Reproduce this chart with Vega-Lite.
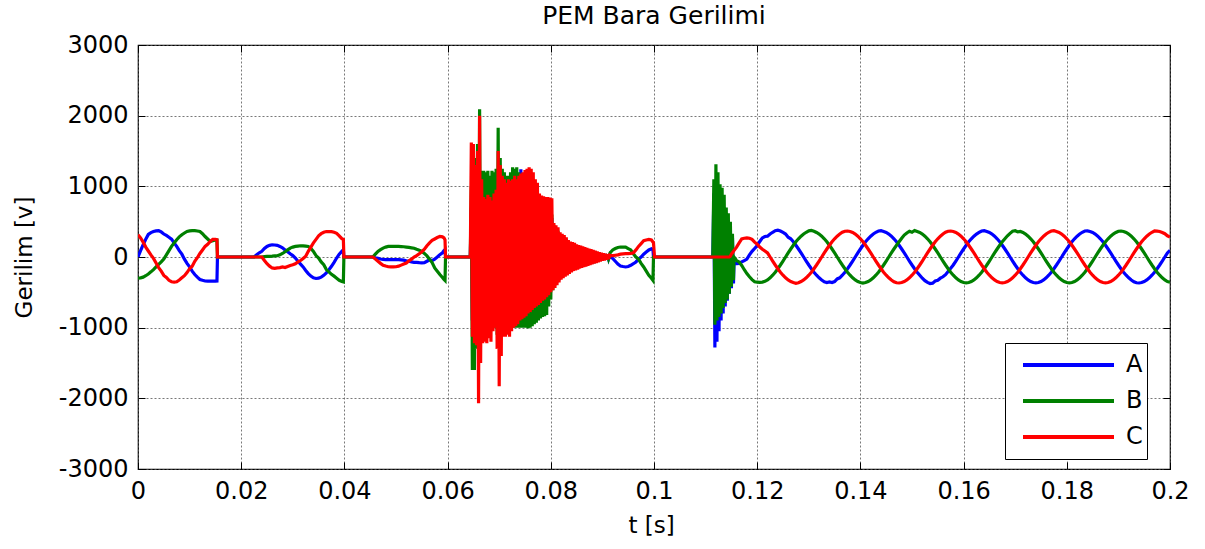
{
"$schema": "https://vega.github.io/schema/vega-lite/v6.json",
"width": 1032, "height": 424,
"autosize": {"type": "none"},
"padding": {"left": 138, "top": 45, "right": 35, "bottom": 80},
"background": "white",
"title": {"text": "PEM Bara Gerilimi", "font": "DejaVu Sans", "fontSize": 25, "fontWeight": "normal", "color": "black", "anchor": "middle", "baseline": "alphabetic", "offset": 19, "dy": 35},
"data": {"values": [
{"t":0,"A":0,"B":-300,"C":314},{"t":0.0005,"A":90,"B":-295,"C":270},{"t":0.001,"A":175,"B":-285,"C":210},{"t":0.0015,"A":250,"B":-265,"C":140},{"t":0.002,"A":320,"B":-240,"C":85},{"t":0.0025,"A":345,"B":-210,"C":30},{"t":0.003,"A":360,"B":-178,"C":-20},{"t":0.0035,"A":370,"B":-140,"C":-85},{"t":0.004,"A":372,"B":-105,"C":-150},{"t":0.0045,"A":355,"B":-70,"C":-200},{"t":0.005,"A":325,"B":-30,"C":-260},{"t":0.0055,"A":305,"B":30,"C":-290},{"t":0.006,"A":280,"B":90,"C":-330},{"t":0.0065,"A":253,"B":150,"C":-350},{"t":0.007,"A":200,"B":200,"C":-356},{"t":0.0075,"A":150,"B":245,"C":-350},{"t":0.008,"A":90,"B":285,"C":-325},{"t":0.0085,"A":40,"B":315,"C":-295},{"t":0.009,"A":-30,"B":340,"C":-265},{"t":0.0095,"A":-90,"B":362,"C":-220},{"t":0.01,"A":-140,"B":370,"C":-165},{"t":0.0105,"A":-200,"B":374,"C":-130},{"t":0.011,"A":-248,"B":372,"C":-60},{"t":0.0115,"A":-285,"B":368,"C":-10},{"t":0.012,"A":-318,"B":360,"C":50},{"t":0.0125,"A":-330,"B":330,"C":100},{"t":0.013,"A":-340,"B":290,"C":150},{"t":0.0135,"A":-342,"B":255,"C":180},{"t":0.014,"A":-342,"B":220,"C":220},{"t":0.0145,"A":-342,"B":230,"C":250},{"t":0.015,"A":-342,"B":240,"C":250},{"t":0.0153,"A":-340,"B":240,"C":245},{"t":0.0154,"A":0,"B":0,"C":0},{"t":0.0225,"A":0,"B":0,"C":0},
{"t":0.023,"A":33,"B":0,"C":0},{"t":0.0235,"A":60,"B":0,"C":0},{"t":0.024,"A":80,"B":0,"C":0},{"t":0.0245,"A":120,"B":5,"C":-50},{"t":0.025,"A":150,"B":8,"C":-95},{"t":0.0255,"A":165,"B":10,"C":-130},{"t":0.026,"A":173,"B":12,"C":-155},{"t":0.0265,"A":170,"B":15,"C":-160},{"t":0.027,"A":165,"B":18,"C":-155},{"t":0.0275,"A":150,"B":30,"C":-150},{"t":0.028,"A":130,"B":50,"C":-140},{"t":0.0285,"A":100,"B":75,"C":-150},{"t":0.029,"A":75,"B":100,"C":-135},{"t":0.0295,"A":45,"B":126,"C":-120},{"t":0.03,"A":20,"B":140,"C":-110},{"t":0.0305,"A":-14,"B":150,"C":-95},{"t":0.031,"A":-60,"B":155,"C":-70},{"t":0.0315,"A":-100,"B":159,"C":-50},{"t":0.032,"A":-140,"B":158,"C":-20},{"t":0.0325,"A":-190,"B":155,"C":10},{"t":0.033,"A":-235,"B":150,"C":80},{"t":0.0335,"A":-270,"B":120,"C":140},{"t":0.034,"A":-295,"B":80,"C":200},{"t":0.0345,"A":-304,"B":20,"C":250},{"t":0.035,"A":-300,"B":-15,"C":300},{"t":0.0355,"A":-285,"B":-70,"C":330},{"t":0.036,"A":-260,"B":-110,"C":350},{"t":0.0365,"A":-225,"B":-178,"C":360},{"t":0.037,"A":-180,"B":-210,"C":360},{"t":0.0375,"A":-131,"B":-245,"C":358},{"t":0.038,"A":-75,"B":-271,"C":350},{"t":0.0385,"A":-14,"B":-300,"C":335},{"t":0.039,"A":40,"B":-330,"C":300},{"t":0.0395,"A":80,"B":-345,"C":260},{"t":0.0398,"A":103,"B":-351,"C":250},{"t":0.0399,"A":0,"B":0,"C":0},{"t":0.0455,"A":0,"B":0,"C":0},
{"t":0.046,"A":-10,"B":40,"C":-30},{"t":0.0465,"A":-19,"B":80,"C":-61},{"t":0.047,"A":-28,"B":105,"C":-90},{"t":0.0475,"A":-35,"B":126,"C":-117},{"t":0.048,"A":-37,"B":140,"C":-128},{"t":0.0485,"A":-37,"B":150,"C":-138},{"t":0.049,"A":-37,"B":150,"C":-140},{"t":0.0495,"A":-37,"B":150,"C":-140},{"t":0.05,"A":-37,"B":150,"C":-138},{"t":0.0505,"A":-37,"B":150,"C":-130},{"t":0.051,"A":-40,"B":148,"C":-115},{"t":0.0515,"A":-45,"B":145,"C":-100},{"t":0.052,"A":-55,"B":140,"C":-85},{"t":0.0525,"A":-61,"B":135,"C":-55},{"t":0.053,"A":-70,"B":130,"C":-30},{"t":0.0535,"A":-75,"B":124,"C":0},{"t":0.054,"A":-75,"B":110,"C":19},{"t":0.0545,"A":-80,"B":97,"C":45},{"t":0.055,"A":-84,"B":80,"C":75},{"t":0.0555,"A":-80,"B":50,"C":110},{"t":0.056,"A":-60,"B":15,"C":160},{"t":0.0565,"A":-40,"B":-30,"C":200},{"t":0.057,"A":-50,"B":-80,"C":235},{"t":0.0575,"A":-30,"B":-154,"C":255},{"t":0.058,"A":0,"B":-200,"C":275},{"t":0.0585,"A":33,"B":-248,"C":290},{"t":0.059,"A":60,"B":-290,"C":285},{"t":0.0593,"A":90,"B":-318,"C":270},{"t":0.0595,"A":103,"B":-332,"C":243},{"t":0.0596,"A":0,"B":0,"C":0},{"t":0.0644,"A":0,"B":0,"C":0},
{"t":0.0646,"A":700,"B":1000,"C":1620},{"t":0.0648,"A":-900,"B":-1600,"C":-1130},{"t":0.065,"A":800,"B":1200,"C":1600},{"t":0.0652,"A":-900,"B":-1600,"C":-1220},{"t":0.0654,"A":900,"B":1400,"C":1300},{"t":0.0656,"A":-1000,"B":-1300,"C":-1250},{"t":0.0658,"A":1000,"B":1600,"C":1500},{"t":0.066,"A":-1100,"B":-1300,"C":-2070},{"t":0.0662,"A":1200,"B":2090,"C":2000},{"t":0.0664,"A":-1000,"B":-1200,"C":-1500},{"t":0.0666,"A":900,"B":1220,"C":1100},{"t":0.0668,"A":-900,"B":-1100,"C":-1220},{"t":0.067,"A":800,"B":1220,"C":850},{"t":0.0672,"A":-900,"B":-1100,"C":-1200},{"t":0.0674,"A":800,"B":1200,"C":820},{"t":0.0676,"A":-850,"B":-1050,"C":-1220},{"t":0.0678,"A":800,"B":1220,"C":880},{"t":0.068,"A":-850,"B":-1000,"C":-1150},{"t":0.0682,"A":750,"B":1150,"C":850},{"t":0.0684,"A":-850,"B":-1050,"C":-1200},{"t":0.0686,"A":750,"B":1220,"C":800},{"t":0.0688,"A":-800,"B":-1000,"C":-1050},{"t":0.069,"A":800,"B":1200,"C":900},{"t":0.0692,"A":-800,"B":-1000,"C":-1000},{"t":0.0694,"A":850,"B":1250,"C":950},{"t":0.0696,"A":-900,"B":-1100,"C":-1300},{"t":0.0698,"A":1000,"B":1830,"C":1500},{"t":0.07,"A":-1000,"B":-1200,"C":-1830},{"t":0.0702,"A":950,"B":1400,"C":1300},{"t":0.0704,"A":-950,"B":-1100,"C":-1400},{"t":0.0706,"A":900,"B":1250,"C":1150},{"t":0.0708,"A":-900,"B":-1000,"C":-1130},{"t":0.071,"A":900,"B":1200,"C":1100},{"t":0.0712,"A":-900,"B":-1000,"C":-1130},{"t":0.0714,"A":900,"B":1150,"C":1050},{"t":0.0716,"A":-900,"B":-1000,"C":-1100},{"t":0.0718,"A":950,"B":1150,"C":1100},{"t":0.072,"A":-900,"B":-1000,"C":-1130},{"t":0.0722,"A":1000,"B":1200,"C":1080},{"t":0.0724,"A":-900,"B":-1000,"C":-1050},{"t":0.0726,"A":1000,"B":1270,"C":1100},{"t":0.0728,"A":-900,"B":-1000,"C":-1000},{"t":0.073,"A":1050,"B":1250,"C":1150},{"t":0.0732,"A":-900,"B":-1000,"C":-980},{"t":0.0734,"A":1100,"B":1270,"C":1100},{"t":0.0736,"A":-900,"B":-1000,"C":-950},{"t":0.0738,"A":1150,"B":1200,"C":1150},{"t":0.074,"A":-920,"B":-1000,"C":-900},{"t":0.0742,"A":1240,"B":1150,"C":1180},{"t":0.0744,"A":-940,"B":-1000,"C":-880},{"t":0.0746,"A":1100,"B":1100,"C":1200},{"t":0.0748,"A":-900,"B":-1000,"C":-860},{"t":0.075,"A":1000,"B":1100,"C":1230},{"t":0.0752,"A":-850,"B":-1000,"C":-840},{"t":0.0754,"A":1000,"B":1100,"C":1250},{"t":0.0756,"A":-850,"B":-1010,"C":-800},{"t":0.0758,"A":1000,"B":1100,"C":1270},{"t":0.076,"A":-800,"B":-1000,"C":-780},{"t":0.0762,"A":950,"B":1050,"C":1250},{"t":0.0764,"A":-750,"B":-980,"C":-750},{"t":0.0766,"A":900,"B":1000,"C":1200},{"t":0.0768,"A":-700,"B":-950,"C":-720},{"t":0.077,"A":850,"B":950,"C":1100},{"t":0.0772,"A":-650,"B":-930,"C":-700},{"t":0.0774,"A":800,"B":900,"C":1050},{"t":0.0776,"A":-620,"B":-900,"C":-680},{"t":0.0778,"A":750,"B":850,"C":900},{"t":0.078,"A":-600,"B":-870,"C":-650},{"t":0.0782,"A":700,"B":800,"C":870},{"t":0.0784,"A":-580,"B":-850,"C":-620},{"t":0.0786,"A":680,"B":780,"C":860},{"t":0.0788,"A":-550,"B":-840,"C":-600},{"t":0.079,"A":650,"B":750,"C":850},{"t":0.0792,"A":-520,"B":-820,"C":-570},{"t":0.0794,"A":620,"B":720,"C":850},{"t":0.0796,"A":-500,"B":-700,"C":-540},{"t":0.0798,"A":600,"B":700,"C":840},{"t":0.08,"A":-470,"B":-600,"C":-500},{"t":0.0802,"A":550,"B":600,"C":830},{"t":0.0804,"A":-430,"B":-470,"C":-470},{"t":0.0806,"A":400,"B":450,"C":480},{"t":0.0808,"A":-400,"B":-400,"C":-440},{"t":0.081,"A":380,"B":400,"C":450},{"t":0.0812,"A":-360,"B":-350,"C":-400},{"t":0.0814,"A":350,"B":370,"C":420},{"t":0.0816,"A":-330,"B":-320,"C":-360},{"t":0.0818,"A":320,"B":320,"C":350},{"t":0.082,"A":-300,"B":-290,"C":-320},{"t":0.0822,"A":300,"B":300,"C":330},{"t":0.0824,"A":-270,"B":-270,"C":-300},{"t":0.0826,"A":280,"B":280,"C":310},{"t":0.0828,"A":-250,"B":-250,"C":-280},{"t":0.083,"A":250,"B":250,"C":280},{"t":0.0832,"A":-230,"B":-230,"C":-260},{"t":0.0834,"A":220,"B":220,"C":240},{"t":0.0836,"A":-210,"B":-210,"C":-240},{"t":0.0838,"A":200,"B":200,"C":220},{"t":0.084,"A":-200,"B":-200,"C":-220},{"t":0.0842,"A":190,"B":190,"C":210},{"t":0.0844,"A":-180,"B":-180,"C":-200},{"t":0.0846,"A":180,"B":180,"C":200},{"t":0.0848,"A":-170,"B":-170,"C":-190},{"t":0.085,"A":160,"B":160,"C":180},{"t":0.0852,"A":-160,"B":-160,"C":-180},{"t":0.0854,"A":150,"B":150,"C":170},{"t":0.0856,"A":-150,"B":-150,"C":-165},{"t":0.0858,"A":140,"B":140,"C":160},{"t":0.086,"A":-140,"B":-140,"C":-155},{"t":0.0862,"A":130,"B":130,"C":150},{"t":0.0864,"A":-130,"B":-130,"C":-145},{"t":0.0866,"A":120,"B":120,"C":140},{"t":0.0868,"A":-120,"B":-120,"C":-135},{"t":0.087,"A":110,"B":110,"C":130},{"t":0.0872,"A":-110,"B":-110,"C":-125},{"t":0.0874,"A":100,"B":100,"C":120},{"t":0.0876,"A":-100,"B":-100,"C":-115},{"t":0.0878,"A":95,"B":95,"C":110},{"t":0.088,"A":-90,"B":-90,"C":-105},{"t":0.0882,"A":85,"B":85,"C":100},{"t":0.0884,"A":-85,"B":-85,"C":-95},{"t":0.0886,"A":80,"B":80,"C":90},{"t":0.0888,"A":-75,"B":-75,"C":-85},{"t":0.089,"A":70,"B":70,"C":80},{"t":0.0892,"A":-65,"B":-65,"C":-75},{"t":0.0894,"A":60,"B":60,"C":70},{"t":0.0896,"A":-55,"B":-55,"C":-65},{"t":0.0898,"A":55,"B":55,"C":60},{"t":0.09,"A":-50,"B":-50,"C":-55},{"t":0.0902,"A":45,"B":45,"C":55},{"t":0.0904,"A":-40,"B":-40,"C":-50},{"t":0.0906,"A":40,"B":40,"C":45},{"t":0.0908,"A":-35,"B":-35,"C":-40},{"t":0.091,"A":30,"B":30,"C":40},{"t":0.0912,"A":-25,"B":-25,"C":-30},{"t":0.0914,"A":20,"B":20,"C":25},
{"t":0.0915,"A":0,"B":60,"C":20},{"t":0.092,"A":-20,"B":100,"C":20},{"t":0.0925,"A":-60,"B":120,"C":25},{"t":0.093,"A":-100,"B":135,"C":30},{"t":0.0935,"A":-128,"B":141,"C":40},{"t":0.094,"A":-135,"B":141,"C":45},{"t":0.0945,"A":-141,"B":141,"C":47},{"t":0.095,"A":-135,"B":120,"C":47},{"t":0.0955,"A":-117,"B":100,"C":50},{"t":0.096,"A":-95,"B":45,"C":60},{"t":0.0965,"A":-70,"B":0,"C":100},{"t":0.097,"A":-30,"B":-30,"C":150},{"t":0.0975,"A":0,"B":-90,"C":190},{"t":0.098,"A":40,"B":-141,"C":230},{"t":0.0985,"A":70,"B":-200,"C":240},{"t":0.099,"A":100,"B":-258,"C":249},{"t":0.0995,"A":117,"B":-300,"C":240},{"t":0.0998,"A":103,"B":-329,"C":211},{"t":0.0999,"A":0,"B":0,"C":205},{"t":0.1001,"A":0,"B":0,"C":0},{"t":0.1114,"A":0,"B":0,"C":0},
{"t":0.1116,"A":900,"B":1100,"C":0},{"t":0.1118,"A":-1281,"B":-958,"C":0},{"t":0.112,"A":1000,"B":1313,"C":0},{"t":0.1122,"A":-1200,"B":-900,"C":0},{"t":0.1124,"A":950,"B":1200,"C":0},{"t":0.1126,"A":-1050,"B":-850,"C":0},{"t":0.1128,"A":850,"B":1030,"C":0},{"t":0.113,"A":-900,"B":-800,"C":0},{"t":0.1132,"A":800,"B":980,"C":0},{"t":0.1134,"A":-800,"B":-720,"C":0},{"t":0.1136,"A":700,"B":880,"C":0},{"t":0.1138,"A":-700,"B":-650,"C":0},{"t":0.114,"A":600,"B":700,"C":0},{"t":0.1142,"A":-620,"B":-600,"C":0},{"t":0.1144,"A":500,"B":620,"C":0},{"t":0.1146,"A":-520,"B":-520,"C":0},{"t":0.1148,"A":400,"B":500,"C":10},{"t":0.115,"A":-440,"B":-420,"C":40},{"t":0.1152,"A":280,"B":330,"C":60},{"t":0.1154,"A":-375,"B":-327,"C":80},
{"t":0.1155,"A":-94,"B":0,"C":90},{"t":0.116,"A":-94,"B":-50,"C":140},{"t":0.1165,"A":-90,"B":-70,"C":200},{"t":0.117,"A":-70,"B":-120,"C":257},{"t":0.1175,"A":-50,"B":-180,"C":265},{"t":0.118,"A":-30,"B":-234,"C":271},{"t":0.1185,"A":30,"B":-280,"C":265},{"t":0.119,"A":80,"B":-320,"C":250},{"t":0.1195,"A":120,"B":-351,"C":210},{"t":0.12,"A":160,"B":-355,"C":180},{"t":0.1205,"A":220,"B":-360,"C":140},{"t":0.121,"A":270,"B":-355,"C":110},{"t":0.1215,"A":290,"B":-345,"C":85},
{"t":0.122,"A":295,"B":-325,"C":57},{"t":0.1225,"A":325,"B":-295,"C":0},{"t":0.123,"A":350,"B":-258,"C":-57},{"t":0.1235,"A":372,"B":-215,"C":-113},{"t":0.124,"A":380,"B":-166,"C":-166},{"t":0.1245,"A":368,"B":-113,"C":-215},{"t":0.125,"A":347,"B":-57,"C":-258},{"t":0.1255,"A":325,"B":0,"C":-295},{"t":0.126,"A":280,"B":57,"C":-325},{"t":0.1265,"A":258,"B":113,"C":-347},{"t":0.127,"A":215,"B":166,"C":-361},{"t":0.1275,"A":166,"B":215,"C":-372},{"t":0.128,"A":113,"B":258,"C":-365},{"t":0.1285,"A":57,"B":295,"C":-347},{"t":0.129,"A":0,"B":325,"C":-325},{"t":0.1295,"A":-57,"B":350,"C":-295},{"t":0.13,"A":-113,"B":370,"C":-258},{"t":0.1305,"A":-166,"B":375,"C":-215},{"t":0.131,"A":-215,"B":365,"C":-166},{"t":0.1315,"A":-258,"B":347,"C":-113},{"t":0.132,"A":-295,"B":325,"C":-57},{"t":0.1325,"A":-325,"B":295,"C":0},{"t":0.133,"A":-350,"B":258,"C":57},{"t":0.1335,"A":-361,"B":215,"C":113},{"t":0.134,"A":-352,"B":166,"C":166},{"t":0.1345,"A":-361,"B":113,"C":215},{"t":0.135,"A":-347,"B":57,"C":258},{"t":0.1355,"A":-310,"B":0,"C":295},{"t":0.136,"A":-295,"B":-57,"C":325},{"t":0.1365,"A":-258,"B":-113,"C":350},{"t":0.137,"A":-215,"B":-166,"C":365},{"t":0.1375,"A":-166,"B":-215,"C":368},{"t":0.138,"A":-113,"B":-258,"C":361},{"t":0.1385,"A":-57,"B":-295,"C":347},{"t":0.139,"A":0,"B":-325,"C":325},{"t":0.1395,"A":57,"B":-347,"C":295},{"t":0.14,"A":113,"B":-361,"C":258},{"t":0.1405,"A":166,"B":-368,"C":215},{"t":0.141,"A":215,"B":-361,"C":166},{"t":0.1415,"A":258,"B":-347,"C":113},
{"t":0.142,"A":295,"B":-325,"C":57},{"t":0.1425,"A":325,"B":-295,"C":0},{"t":0.143,"A":350,"B":-258,"C":-57},{"t":0.1435,"A":368,"B":-215,"C":-113},{"t":0.144,"A":372,"B":-166,"C":-166},{"t":0.1445,"A":361,"B":-113,"C":-215},{"t":0.145,"A":347,"B":-57,"C":-258},{"t":0.1455,"A":325,"B":0,"C":-295},{"t":0.146,"A":295,"B":57,"C":-325},{"t":0.1465,"A":258,"B":113,"C":-350},{"t":0.147,"A":215,"B":166,"C":-365},{"t":0.1475,"A":166,"B":215,"C":-368},{"t":0.148,"A":113,"B":265,"C":-361},{"t":0.1485,"A":57,"B":310,"C":-347},{"t":0.149,"A":0,"B":340,"C":-325},{"t":0.1495,"A":-57,"B":365,"C":-295},{"t":0.15,"A":-113,"B":350,"C":-258},{"t":0.1505,"A":-166,"B":375,"C":-215},{"t":0.151,"A":-215,"B":361,"C":-166},{"t":0.1515,"A":-258,"B":347,"C":-113},{"t":0.152,"A":-300,"B":325,"C":-57},{"t":0.1525,"A":-335,"B":295,"C":0},{"t":0.153,"A":-360,"B":258,"C":57},{"t":0.1535,"A":-375,"B":215,"C":113},{"t":0.154,"A":-370,"B":166,"C":166},{"t":0.1545,"A":-340,"B":113,"C":215},{"t":0.155,"A":-330,"B":57,"C":258},{"t":0.1555,"A":-300,"B":0,"C":295},{"t":0.156,"A":-280,"B":-57,"C":325},{"t":0.1565,"A":-250,"B":-113,"C":350},{"t":0.157,"A":-205,"B":-166,"C":365},{"t":0.1575,"A":-160,"B":-215,"C":368},{"t":0.158,"A":-113,"B":-258,"C":361},{"t":0.1585,"A":-57,"B":-295,"C":347},{"t":0.159,"A":0,"B":-325,"C":325},{"t":0.1595,"A":57,"B":-347,"C":295},{"t":0.16,"A":113,"B":-361,"C":258},{"t":0.1605,"A":166,"B":-365,"C":215},{"t":0.161,"A":215,"B":-361,"C":166},{"t":0.1615,"A":258,"B":-347,"C":113},
{"t":0.162,"A":295,"B":-325,"C":57},{"t":0.1625,"A":325,"B":-295,"C":0},{"t":0.163,"A":347,"B":-258,"C":-57},{"t":0.1635,"A":368,"B":-215,"C":-113},{"t":0.164,"A":372,"B":-166,"C":-166},{"t":0.1645,"A":361,"B":-113,"C":-215},{"t":0.165,"A":347,"B":-57,"C":-258},{"t":0.1655,"A":325,"B":0,"C":-295},{"t":0.166,"A":295,"B":57,"C":-325},{"t":0.1665,"A":258,"B":113,"C":-347},{"t":0.167,"A":215,"B":166,"C":-361},{"t":0.1675,"A":166,"B":215,"C":-365},{"t":0.168,"A":113,"B":258,"C":-361},{"t":0.1685,"A":57,"B":300,"C":-347},{"t":0.169,"A":0,"B":335,"C":-325},{"t":0.1695,"A":-57,"B":365,"C":-295},{"t":0.17,"A":-113,"B":372,"C":-258},{"t":0.1705,"A":-166,"B":355,"C":-215},{"t":0.171,"A":-215,"B":361,"C":-166},{"t":0.1715,"A":-258,"B":347,"C":-113},{"t":0.172,"A":-295,"B":325,"C":-57},{"t":0.1725,"A":-325,"B":295,"C":0},{"t":0.173,"A":-347,"B":258,"C":57},{"t":0.1735,"A":-361,"B":215,"C":113},{"t":0.174,"A":-365,"B":166,"C":166},{"t":0.1745,"A":-361,"B":113,"C":215},{"t":0.175,"A":-347,"B":57,"C":258},{"t":0.1755,"A":-325,"B":0,"C":295},{"t":0.176,"A":-295,"B":-57,"C":325},{"t":0.1765,"A":-258,"B":-113,"C":350},{"t":0.177,"A":-215,"B":-166,"C":368},{"t":0.1775,"A":-166,"B":-215,"C":372},{"t":0.178,"A":-113,"B":-258,"C":361},{"t":0.1785,"A":-57,"B":-295,"C":347},{"t":0.179,"A":0,"B":-325,"C":325},{"t":0.1795,"A":57,"B":-347,"C":295},{"t":0.18,"A":113,"B":-361,"C":258},{"t":0.1805,"A":166,"B":-365,"C":215},{"t":0.181,"A":215,"B":-361,"C":166},{"t":0.1815,"A":258,"B":-347,"C":113},
{"t":0.182,"A":295,"B":-325,"C":57},{"t":0.1825,"A":325,"B":-295,"C":0},{"t":0.183,"A":350,"B":-258,"C":-57},{"t":0.1835,"A":368,"B":-215,"C":-113},{"t":0.184,"A":370,"B":-166,"C":-166},{"t":0.1845,"A":361,"B":-113,"C":-215},{"t":0.185,"A":347,"B":-57,"C":-258},{"t":0.1855,"A":325,"B":0,"C":-295},{"t":0.186,"A":295,"B":57,"C":-325},{"t":0.1865,"A":258,"B":113,"C":-347},{"t":0.187,"A":215,"B":166,"C":-361},{"t":0.1875,"A":166,"B":215,"C":-365},{"t":0.188,"A":113,"B":258,"C":-361},{"t":0.1885,"A":57,"B":295,"C":-347},{"t":0.189,"A":0,"B":325,"C":-325},{"t":0.1895,"A":-57,"B":347,"C":-295},{"t":0.19,"A":-113,"B":365,"C":-258},{"t":0.1905,"A":-166,"B":368,"C":-215},{"t":0.191,"A":-215,"B":361,"C":-166},{"t":0.1915,"A":-258,"B":347,"C":-113},{"t":0.192,"A":-295,"B":325,"C":-57},{"t":0.1925,"A":-325,"B":295,"C":0},{"t":0.193,"A":-350,"B":258,"C":57},{"t":0.1935,"A":-365,"B":215,"C":113},{"t":0.194,"A":-368,"B":166,"C":166},{"t":0.1945,"A":-361,"B":113,"C":215},{"t":0.195,"A":-347,"B":57,"C":258},{"t":0.1955,"A":-325,"B":0,"C":295},{"t":0.196,"A":-295,"B":-57,"C":325},{"t":0.1965,"A":-258,"B":-113,"C":350},{"t":0.197,"A":-215,"B":-166,"C":368},{"t":0.1975,"A":-166,"B":-215,"C":365},{"t":0.198,"A":-113,"B":-258,"C":361},{"t":0.1985,"A":-57,"B":-295,"C":347},{"t":0.199,"A":0,"B":-325,"C":330},{"t":0.1995,"A":57,"B":-347,"C":300},{"t":0.2,"A":95,"B":-355,"C":282}
]},
"transform": [{"fold": ["A", "B", "C"], "as": ["s", "v"]}],
"config": {
  "view": {"stroke": "black", "strokeWidth": 1.2},
  "axis": {"labelFont": "DejaVu Sans", "labelFontSize": 24, "labelColor": "black", "titleFont": "DejaVu Sans", "titleFontSize": 23, "titleFontWeight": "normal", "titleColor": "black", "domain": false, "tickColor": "black", "tickSize": -7, "tickWidth": 1, "gridColor": "#555555", "gridDash": [2, 2], "gridWidth": 0.8}
},
"layer": [
  {
    "mark": {"type": "line", "strokeWidth": 3.2, "clip": true},
    "encoding": {
      "x": {"field": "t", "type": "quantitative",
            "scale": {"domain": [0, 0.2], "nice": false, "zero": false},
            "axis": {"values": [0, 0.02, 0.04, 0.06, 0.08, 0.1, 0.12, 0.14, 0.16, 0.18, 0.2], "format": "~g", "grid": true, "title": "t [s]", "labelPadding": 17, "labelBaseline": "top", "titleX": 513, "titleY": 63, "titleBaseline": "alphabetic", "titleAlign": "center", "labelFlush": false, "labelOverlap": false}},
      "y": {"field": "v", "type": "quantitative",
            "scale": {"domain": [-3000, 3000], "nice": false, "zero": false},
            "axis": {"values": [-3000, -2000, -1000, 0, 1000, 2000, 3000], "labelExpr": "'' + datum.value", "grid": true, "title": "Gerilim [v]", "labelPadding": 17, "titleX": -107, "titleY": 212, "titleAngle": 270, "titleBaseline": "alphabetic", "titleAlign": "center", "labelFlush": false, "labelOverlap": false}},
      "color": {"field": "s", "type": "nominal",
                "scale": {"domain": ["A", "B", "C"], "range": ["#0000ff", "#008000", "#ff0000"]},
                "legend": {"orient": "none", "legendX": 867, "legendY": 298, "title": null, "symbolType": "stroke", "symbolSize": 8281, "symbolStrokeWidth": 4, "clipHeight": 36, "rowPadding": 0, "padding": 4, "symbolOffset": 12, "labelOffset": 10, "labelFont": "DejaVu Sans", "labelFontSize": 24, "labelColor": "black", "strokeColor": "black", "fillColor": "white", "labelExpr": "datum.label + '\u00a0\u00a0'"}}
    }
  },
  {
    "mark": {"type": "point", "opacity": 0},
    "encoding": {
      "x": {"field": "t", "type": "quantitative", "scale": {"domain": [0, 0.2], "nice": false, "zero": false},
            "axis": {"orient": "top", "values": [0, 0.02, 0.04, 0.06, 0.08, 0.1, 0.12, 0.14, 0.16, 0.18, 0.2], "labels": false, "title": null, "grid": false}},
      "y": {"field": "v", "type": "quantitative", "scale": {"domain": [-3000, 3000], "nice": false, "zero": false},
            "axis": {"orient": "right", "values": [-3000, -2000, -1000, 0, 1000, 2000, 3000], "labels": false, "title": null, "grid": false}}
    }
  }
],
"resolve": {"axis": {"x": "independent", "y": "independent"}}
}
